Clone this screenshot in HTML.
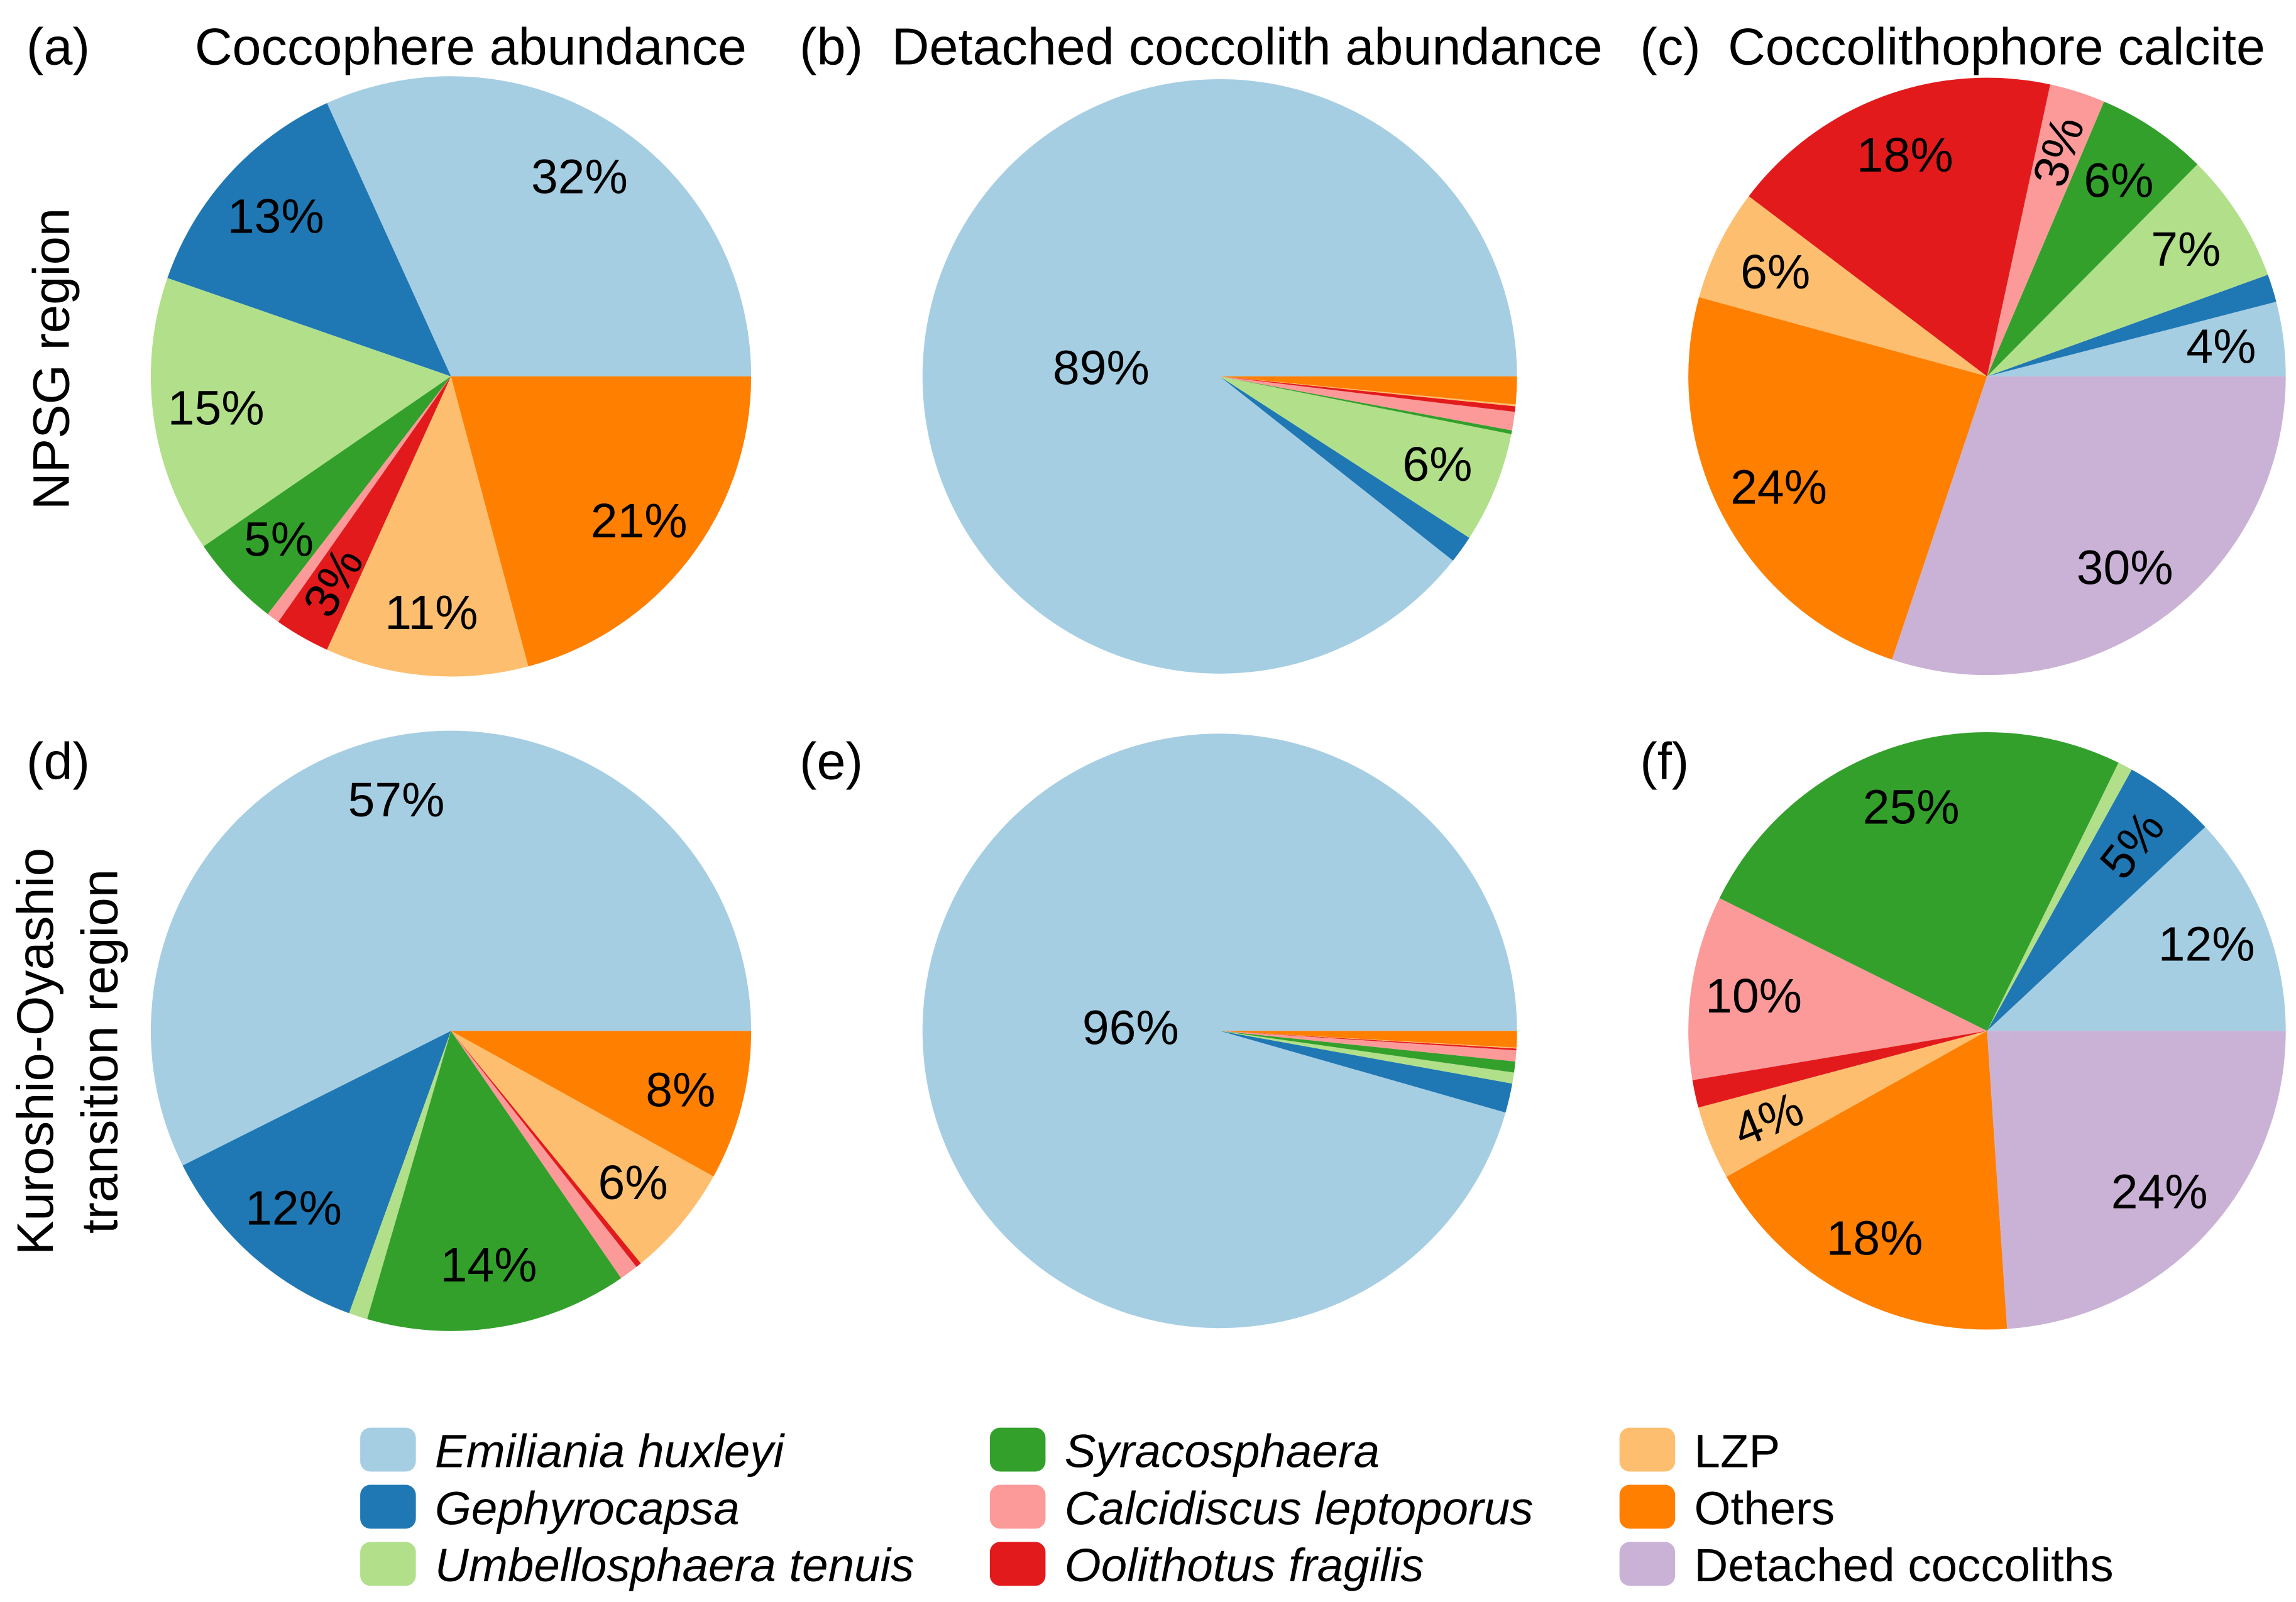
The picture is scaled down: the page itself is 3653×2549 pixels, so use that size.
<!DOCTYPE html>
<html><head><meta charset="utf-8">
<style>
html,body{margin:0;padding:0;background:#fff;}
svg{display:block;font-family:"Liberation Sans",Arial,sans-serif;}
</style></head>
<body>
<svg id="fig" width="3653" height="2549" viewBox="0 0 1568 1094" xmlns="http://www.w3.org/2000/svg">
<rect width="1568" height="1094" fill="#fff"/>
<g id="pies"></g>
<g font-size="35.5" fill="#000">
<text x="18" y="44">(a)</text>
<text x="133" y="44">Coccophere abundance</text>
<text x="546" y="44">(b)</text>
<text x="609" y="44">Detached coccolith abundance</text>
<text x="1120" y="44">(c)</text>
<text x="1180" y="44">Coccolithophore calcite</text>
<text x="18" y="532">(d)</text>
<text x="546" y="532">(e)</text>
<text x="1120" y="532">(f)</text>
</g>
<g font-size="35" fill="#000">
<text transform="translate(47,245) rotate(-90)" text-anchor="middle">NPSG region</text>
<text transform="translate(36,718) rotate(-90)" text-anchor="middle">Kuroshio-Oyashio</text>
<text transform="translate(80,718) rotate(-90)" text-anchor="middle">transition region</text>
</g>
<g id="legend" font-size="32"></g>
</svg>
<script>
const categories = ["Emiliania huxleyi","Gephyrocapsa","Umbellosphaera tenuis","Syracosphaera","Calcidiscus leptoporus","Oolithotus fragilis","LZP","Others","Detached coccoliths"];
const italicFlags = [true,true,true,true,true,true,false,false,false];
const colors = ["#a6cee3","#1f78b4","#b2df8a","#33a02c","#fb9a99","#e31a1c","#fdbf6f","#ff7f00","#cab2d6"];
const valuesA = [32,13,15,5,0.7,3,11,21,0];
const valuesB = [89,1.5,6,0.2,1,0.3,0.1,1.5,0];
const valuesC = [4,1.5,7,6,3,18,6,24,30];
const valuesD = [57,12,1,14,1,0.3,6,8,0];
const valuesE = [96,1.6,0.6,0.6,0.6,0.1,0.05,0.9,0];
const valuesF = [12,5,0.8,25,10,1.5,4,18,24];
const labelsA = ["32%","13%","15%","5%","","3%","11%","21%",""];
const labelsB = ["89%","","6%","","","","","",""];
const labelsC = ["4%","","7%","6%","3%","18%","6%","24%","30%"];
const labelsD = ["57%","12%","","14%","","","6%","8%",""];
const labelsE = ["96%","","","","","","","",""];
const labelsF = ["12%","5%","","25%","10%","","4%","18%","24%"];

const NS="http://www.w3.org/2000/svg";
const pies=document.getElementById('pies');
const layout=[
 {id:'a',cx:308,cy:257,r:205,vals:valuesA,labs:labelsA,rot:[5]},
 {id:'b',cx:833,cy:257,r:203,vals:valuesB,labs:labelsB,rot:[],big:[0.4,176]},
 {id:'c',cx:1357,cy:257,r:204,vals:valuesC,labs:labelsC,rot:[4]},
 {id:'d',cx:308,cy:704,r:205,vals:valuesD,labs:labelsD,rot:[]},
 {id:'e',cx:833,cy:704,r:203,vals:valuesE,labs:labelsE,rot:[],big:[0.3,178]},
 {id:'f',cx:1357,cy:704,r:204,vals:valuesF,labs:labelsF,rot:[1,6]}
];
function pt(cx,cy,r,deg){const a=deg*Math.PI/180;return [cx+r*Math.cos(a),cy-r*Math.sin(a)];}
layout.forEach(p=>{
 const g=document.createElementNS(NS,'g');
 
 
 pies.appendChild(g);
 const tot=p.vals.reduce((s,v)=>s+v,0);
 let start=0;
 p.vals.forEach((v,i)=>{
  if(v<=0)return;
  const sweep=v/tot*360, end=start+sweep;
  const [x1,y1]=pt(p.cx,p.cy,p.r,start),[x2,y2]=pt(p.cx,p.cy,p.r,end);
  const path=document.createElementNS(NS,'path');
  path.setAttribute('d',`M${p.cx},${p.cy}L${x1},${y1}A${p.r},${p.r} 0 ${sweep>180?1:0} 0 ${x2},${y2}Z`);
  path.setAttribute('fill',colors[i]);
  
  
  g.appendChild(path);
  start=end;
 });
 start=0;
 p.vals.forEach((v,i)=>{
  const sweep=v/tot*360, mid=start+sweep/2; start+=sweep;
  if(!p.labs[i])return;
  let d=0.79, ang=mid;
  if(i===0&&p.big){d=p.big[0];ang=p.big[1];}
  const [x,y]=pt(p.cx,p.cy,p.r*d,ang);
  const t=document.createElementNS(NS,'text');
  t.setAttribute('x',x);t.setAttribute('y',y);
  t.setAttribute('text-anchor','middle');t.setAttribute('dominant-baseline','central');
  t.setAttribute('font-size','33');
  if(p.rot.includes(i)){let r=mid;if(r>90&&r<270)r-=180;t.setAttribute('transform',`rotate(${-r},${x},${y})`);}
  t.textContent=p.labs[i];
  
  
  g.appendChild(t);
 });
});
const lg=document.getElementById('legend');
categories.forEach((c,i)=>{
 const col=Math.floor(i/3), row=i%3;
 const x=246+col*430, y=975+row*39;
 const r=document.createElementNS(NS,'rect');
 r.setAttribute('x',x);r.setAttribute('y',y);r.setAttribute('width',38);r.setAttribute('height',30);r.setAttribute('rx',7);
 r.setAttribute('fill',colors[i]);
 
 
 lg.appendChild(r);
 const t=document.createElementNS(NS,'text');
 t.setAttribute('x',x+51);t.setAttribute('y',y+27);
 if(italicFlags[i])t.setAttribute('font-style','italic');
 t.textContent=c;
 
 
 lg.appendChild(t);
});
</script>
</body></html>
